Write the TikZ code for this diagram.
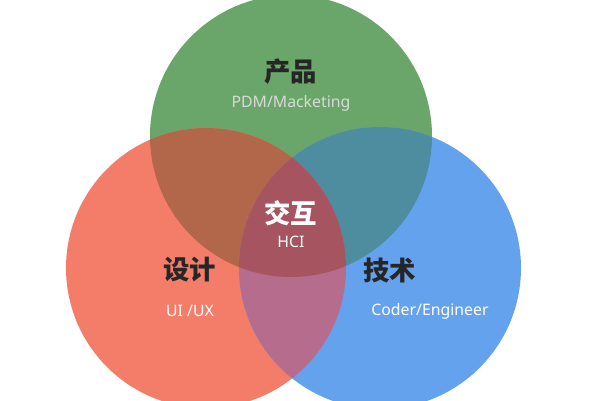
\documentclass[tikz,border=0pt]{standalone}
\usepackage{fontspec}
\setmainfont{Noto Sans}
\newfontfamily\cjk{Noto Sans CJK SC}
\definecolor{cg}{RGB}{106,166,106}
\definecolor{cr}{RGB}{243,125,105}
\definecolor{cb}{RGB}{100,162,238}
\definecolor{crg}{RGB}{178,102,74}
\definecolor{cgb}{RGB}{78,140,160}
\definecolor{crb}{RGB}{182,108,140}
\definecolor{call}{RGB}{165,84,96}
\begin{document}
\begin{tikzpicture}[x=0.02cm,y=-0.02cm,
  title/.style={font=\cjk\bfseries\fontsize{15}{18}\selectfont},
  sub/.style={font=\fontsize{9}{11}\selectfont}]
\useasboundingbox[fill=white] (0,0) rectangle (600,400);
\def\G{(291,136) circle (141)}
\def\R{(206,268) circle (140)}
\def\B{(380,268) circle (141)}
\fill[cg] \G; \fill[cr] \R; \fill[cb] \B;
\begin{scope}\clip \G; \fill[crg] \R; \end{scope}
\begin{scope}\clip \G; \fill[cgb] \B; \end{scope}
\begin{scope}\clip \R; \fill[crb] \B; \end{scope}
\begin{scope}\clip \G; \clip \R; \fill[call] \B; \end{scope}
\node[title,text=black!85] (p) at (291,72) {产品};
\node[sub,text=white!85!black] (ps) at (291,103) {PDM/Macketing};
\node[title,text=white] (h) at (291,213) {交互};
\node[sub,text=white] (hs) at (291,242) {HCI};
\node[title,text=black!85] (d) at (190,270) {设计};
\node[sub,text=white] (ds) at (190,311) {UI /UX};
\node[title,text=black!85] (t) at (390,270) {技术};
\node[sub,text=white] (ts) at (430,311) {Coder/Engineer};
\end{tikzpicture}
\end{document}
